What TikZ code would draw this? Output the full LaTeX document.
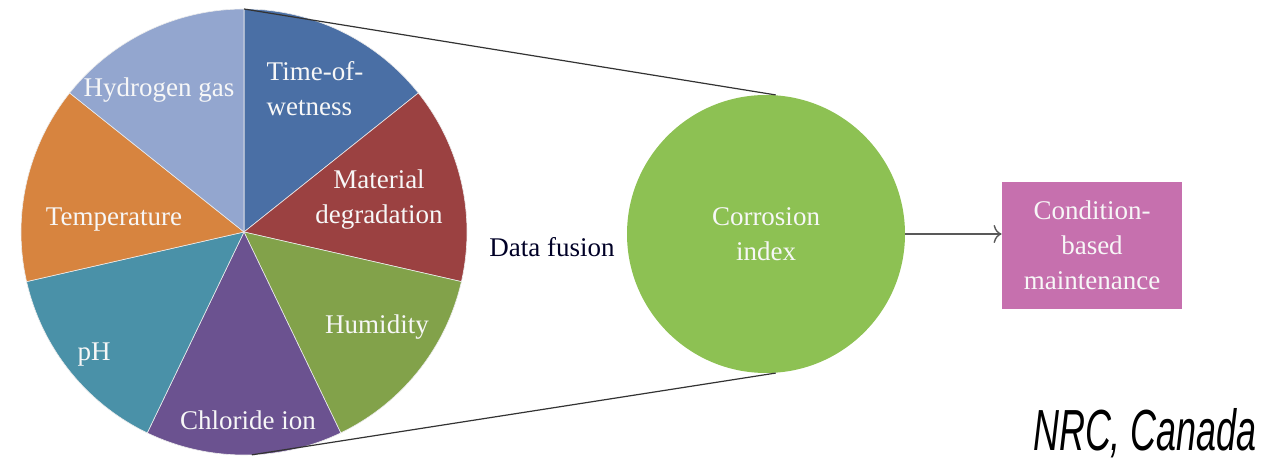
\documentclass[tikz,border=0pt]{standalone}
\usepackage{fontspec}
\setmainfont{Liberation Serif}
\setsansfont{Liberation Sans}
\usepackage{tikz}
\usetikzlibrary{calc}
\usetikzlibrary{arrows.meta}
\usepackage{xcolor}
\definecolor{colTow}{RGB}{74,111,165}
\definecolor{colMat}{RGB}{155,65,65}
\definecolor{colHum}{RGB}{130,162,74}
\definecolor{colChl}{RGB}{107,82,144}
\definecolor{colPh}{RGB}{74,145,168}
\definecolor{colTmp}{RGB}{215,132,63}
\definecolor{colHyd}{RGB}{147,166,207}
\definecolor{colCor}{RGB}{141,193,83}
\definecolor{colCbm}{RGB}{198,112,174}
\colorlet{colTxt}{white!94!gray}
\tikzset{
  slicetext/.style={text=colTxt, font=\fontsize{13.5}{17.5}\selectfont, align=center},
  fusetext/.style={text=black!85!blue, font=\fontsize{13.5}{17.5}\selectfont}
}

\begin{document}
\begin{tikzpicture}[x=0.5pt,y=0.5pt]
  \useasboundingbox (0,0) rectangle (1266,461);

 % ================================================================
 % Pie of measured quantities
 % ================================================================
	\coordinate (C) at (244,229);
	\foreach \col [count=\i, evaluate=\i as \a using 90-(\i-1)*360/7] in
	    {colTow,colMat,colHum,colChl,colPh,colTmp,colHyd}
	  \fill[\col, draw=white!85!gray, line width=0.3pt] (C) -- ++(\a:223)
	    arc[start angle=\a, end angle=\a-360/7, radius=223] -- cycle;
	\coordinate (ptop) at ($(C)+(90:223)$);
	\coordinate (pbot) at ($(C)+(-88:223)$);

        % slice labels
        \node [slicetext, align=left] (tow) at (315,372) {Time-of-\\wetness};
        \node [slicetext] (mat) at (379,261) {Material\\degradation};
        \node [slicetext] (hum) at (377,134) {Humidity};
        \node [slicetext] (chl) at (248,41) {Chloride ion};
        \node [slicetext] (ph) at (94,106) {pH};
        \node [slicetext] (tmp) at (114,241) {Temperature};
        \node [slicetext] (hyd) at (159,371) {Hydrogen gas};

 % ================================================================
 % Fusion and result
 % ================================================================
        \node [circle, fill=colCor, minimum size=139pt, inner sep=0pt, slicetext] (corr) at (766,227) {Corrosion\\index};
        \node [fusetext] (fusion) at (552,214) {Data fusion};
        \node [fill=colCbm, minimum width=90pt, minimum height=63.5pt, inner sep=0pt, slicetext] (cbm) at (1092,215.5) {Condition-\\based\\maintenance};

        % zoom lines
        \draw[black!80, line width=0.6pt] (ptop) -- (corr.86);
        \draw[black!80, line width=0.6pt] (pbot) -- (corr.-86);
        % arrow
        \draw[-{To[length=4pt,width=9pt]}, black!65, line width=0.7pt] (corr.east) -- (corr.east -| cbm.west);

        % source
        \node [anchor=base, font=\sffamily\itshape\fontsize{29}{30}\selectfont] (src) at (1145,10) {\scalebox{0.62}[1]{NRC, Canada}};

\end{tikzpicture}
\end{document}
